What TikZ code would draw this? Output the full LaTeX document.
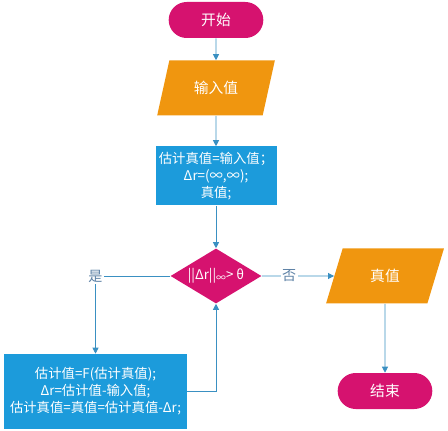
\documentclass[tikz,border=0pt]{standalone}
\usepackage{fontspec}
\setmainfont{Noto Sans CJK SC}
\usetikzlibrary{arrows.meta,shapes.geometric,shapes.misc}
\definecolor{pinkred}{HTML}{D6126F}
\definecolor{orangefill}{HTML}{F0960F}
\definecolor{bluefill}{HTML}{1C9BDB}
\definecolor{linecol}{HTML}{3A90C2}
\definecolor{labelcol}{HTML}{5E82A6}

\begin{document}
\begin{tikzpicture}[x=1cm,y=1cm]
\tikzset{
  terminal/.style={rounded rectangle,fill=pinkred,text=white,minimum width=2.6cm,minimum height=0.9cm,font=\fontsize{10.5}{12}\selectfont},
  iobox/.style={trapezium,trapezium stretches=true,trapezium left angle=67,trapezium right angle=113,fill=orangefill,text=white,minimum width=2.95cm,minimum height=1.375cm,inner sep=0pt,font=\fontsize{10.5}{12}\selectfont},
  procbox/.style={rectangle,fill=bluefill,text=white,align=center,font=\fontsize{9.5}{12}\selectfont,inner sep=1pt},
  decision/.style={diamond,aspect=1.65,fill=pinkred,text=white,minimum width=2.275cm,minimum height=1.375cm,inner sep=0pt,font=\fontsize{9.5}{11}\selectfont},
  flow/.style={-{Triangle[length=1.5mm,width=1.5mm]},draw=linecol,line width=0.6pt},
  branch/.style={fill=white,text=labelcol,inner sep=1pt,font=\fontsize{10}{11}\selectfont}
}
\useasboundingbox (0,0) rectangle (11.2,-10.775);
\node[terminal] (n_start) at (5.4,-0.5) {开始};
\node[iobox] (n_input) at (5.4,-2.2) {输入值};
\node[procbox,minimum width=3.025cm,minimum height=1.475cm] (n_init) at (5.4,-4.4) {估计真值=输入值；\\Δr=(∞,∞);\\真值;};
\node[decision] (n_judge) at (5.4,-6.9) {||Δr||\raisebox{-0.3ex}{\scriptsize ∞}> θ};
\node[iobox] (n_true) at (9.625,-6.9) {真值};
\node[terminal] (n_end) at (9.625,-9.775) {结束};
\node[procbox,minimum width=4.575cm,minimum height=1.875cm] (n_calc) at (2.3875,-9.7875) {估计值=F(估计真值);\\Δr=估计值-输入值;\\估计真值=真值=估计真值-Δr;};
\draw[flow] (n_start) -- (n_input);
\draw[flow] (n_input) -- (n_init);
\draw[flow] (n_init) -- (n_judge);
\draw[flow] (n_judge) -- node[branch,pos=0.38]{否} (n_true);
\draw[flow] (n_judge) -| node[branch,pos=0.5]{是} (n_calc);
\draw[flow] (n_true) -- (n_end);
\draw[flow] (n_calc) -| (n_judge);
\end{tikzpicture}
\end{document}
